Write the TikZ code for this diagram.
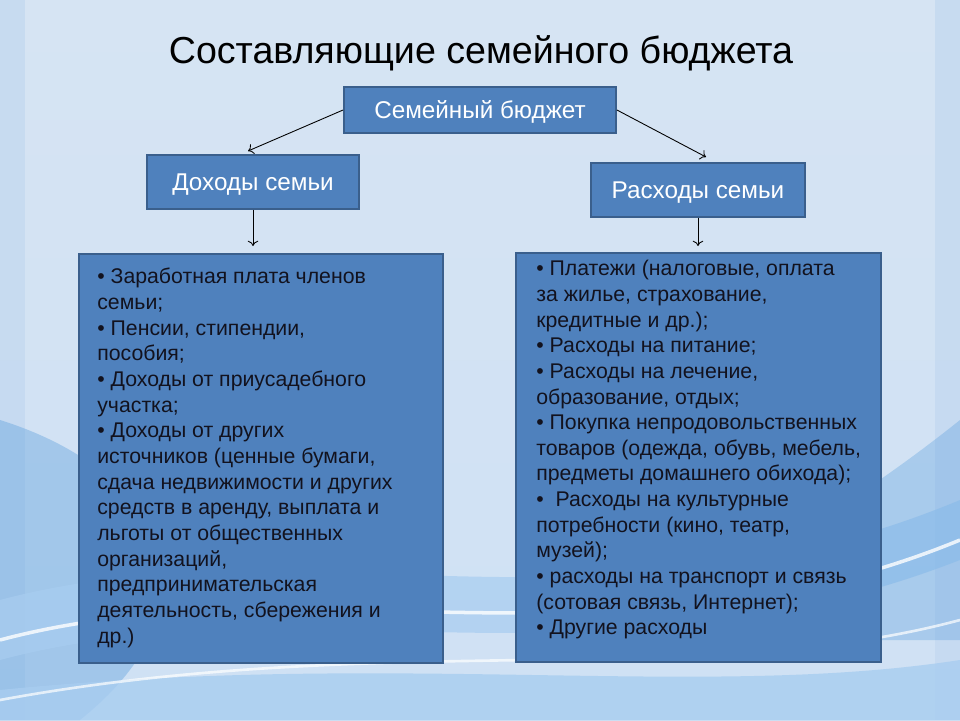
\documentclass[tikz,border=0pt]{standalone}
\usepackage{fontspec}
\usetikzlibrary{arrows.meta}
\setmainfont{Liberation Sans}
\definecolor{boxblue}{HTML}{4F81BD}
\definecolor{boxline}{HTML}{3A5F8C}
\definecolor{listink}{HTML}{12121E}
\definecolor{skytop}{HTML}{D6E4F3}
\definecolor{skymid}{HTML}{EEF4FA}
\definecolor{skybottom}{HTML}{CFE1F4}
\definecolor{skyedge}{HTML}{C2D8F0}
\definecolor{wavelight}{HTML}{A8CDF0}
\definecolor{wavedark}{HTML}{4C96DA}

\begin{document}
\begin{tikzpicture}[x=0.02cm,y=-0.02cm,
    headbox/.style={draw=boxline, line width=1.1pt, fill=boxblue, text=white,
        inner sep=0pt, text height=9.9pt, text depth=0pt,
        font=\fontsize{13.8}{15}\selectfont},
    listbox/.style={draw=boxline, line width=1.1pt, fill=boxblue, inner sep=0pt},
    listtext/.style={text=listink, align=left, anchor=north west, inner sep=0pt,
        font=\fontsize{12.1}{14.6}\selectfont},
    link/.style={-{To[length=3pt,width=6pt]}, black, line width=0.5pt}]

    \useasboundingbox (0,0) rectangle (960,720);

    % background
    \shade[top color=skytop, middle color=skymid, bottom color=skybottom]
        (0,0) rectangle (960,720);
    \fill[skyedge, opacity=0.7] (0,0) rectangle (25,720);
    \fill[skyedge, opacity=0.7] (935,0) rectangle (960,720);
    \fill[wavedark, opacity=0.35] (0,420) .. controls (160,470) and (230,600) .. (80,720)
        -- (0,720) -- cycle;
    \fill[wavelight, opacity=0.7] (0,600) .. controls (300,520) and (600,650) .. (960,500)
        -- (960,560) .. controls (600,700) and (300,580) .. (0,660) -- cycle;
    \fill[wavedark, opacity=0.3] (960,420) .. controls (860,500) and (760,560) .. (600,640)
        -- (960,640) -- cycle;
    \fill[wavelight, opacity=0.8] (0,690) .. controls (400,650) and (700,700) .. (960,660)
        -- (960,720) -- (0,720) -- cycle;
    \draw[white, line width=2pt, opacity=0.8] (0,640) .. controls (300,560) and (620,680) .. (960,540);
    \draw[white, line width=1.5pt, opacity=0.7] (0,700) .. controls (380,630) and (700,690) .. (960,620);

    \node (title) at (481,53) {\fontsize{21.4}{24}\selectfont Составляющие семейного бюджета};

    \node[headbox, minimum width=5.44cm, minimum height=0.92cm] (budget) at (480,110) {Семейный бюджет};
    \node[headbox, minimum width=4.24cm, minimum height=1.08cm] (income) at (253,182) {Доходы семьи};
    \node[headbox, minimum width=4.28cm, minimum height=1.08cm] (expense) at (698,190) {Расходы семьи};

    \node[listbox, minimum width=7.28cm, minimum height=8.18cm] (incomebox) at (261,458.5) {};
    \node[listbox, minimum width=7.30cm, minimum height=8.18cm] (expensebox) at (698.5,457.5) {};

    \node[listtext] (incomelist) at (97,268) {%
        • Заработная плата членов\\
        семьи;\\
        • Пенсии, стипендии,\\
        пособия;\\
        • Доходы от приусадебного\\
        участка;\\
        • Доходы от других\\
        источников (ценные бумаги,\\
        сдача недвижимости и других\\
        средств в аренду, выплата и\\
        льготы от общественных\\
        организаций,\\
        предпринимательская\\
        деятельность, сбережения и\\
        др.)};

    \node[listtext] (expenselist) at (536,260) {%
        • Платежи (налоговые, оплата\\
        за жилье, страхование,\\
        кредитные и др.);\\
        • Расходы на питание;\\
        • Расходы на лечение,\\
        образование, отдых;\\
        • Покупка непродовольственных\\
        товаров (одежда, обувь, мебель,\\
        предметы домашнего обихода);\\
        •~ Расходы на культурные\\
        потребности (кино, театр,\\
        музей);\\
        • расходы на транспорт и связь\\
        (сотовая связь, Интернет);\\
        • Другие расходы};

    \coordinate (incometip) at (248,151);
    \coordinate (expensetip) at (706,157);
    \coordinate (incomedown) at (253,246);
    \coordinate (expensedown) at (698,246);

    \draw[link] (budget.west) -- (incometip);
    \draw[link] (budget.east) -- (expensetip);
    \draw[link] (income.south) -- (incomedown);
    \draw[link] (expense.south) -- (expensedown);

\end{tikzpicture}
\end{document}
